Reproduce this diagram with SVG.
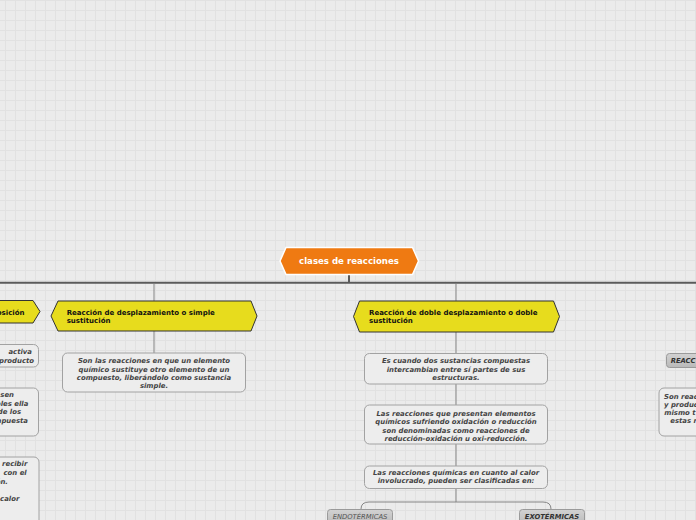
<svg xmlns="http://www.w3.org/2000/svg" width="696" height="520" viewBox="0 0 696 520">
<defs>
<pattern id="grid" patternUnits="userSpaceOnUse" width="10" height="10">
<rect x="0" y="0" width="10" height="10" fill="#ebebeb"/>
<rect x="5" y="0" width="1" height="10" fill="#e1e1e1"/>
<rect x="0" y="0" width="10" height="1" fill="#e1e1e1"/>
</pattern>
<linearGradient id="gray" x1="0" y1="0" x2="0" y2="1">
<stop offset="0" stop-color="#d2d2d2"/>
<stop offset="1" stop-color="#b9b9b9"/>
</linearGradient>
</defs>
<style>
.yel{fill:#e7dc1d;stroke:#333;stroke-width:1}
.ytxt{font-family:"DejaVu Sans",Verdana,sans-serif;font-weight:bold;font-size:7px;fill:#111}
.box{fill:#ededed;stroke:#a2a2a2;stroke-width:1}
.dtxt{font-family:"DejaVu Sans",Verdana,sans-serif;font-weight:bold;font-style:italic;font-size:6.9px;fill:#444;text-anchor:middle}
.ltxt{font-family:"DejaVu Sans",Verdana,sans-serif;font-weight:bold;font-style:italic;font-size:6.9px;fill:#444}
.gbox{fill:url(#gray);stroke:#9a9a9a;stroke-width:1}
.gtxt{font-family:"DejaVu Sans",Verdana,sans-serif;font-style:italic;font-size:6.8px;fill:#555}
.mid{text-anchor:middle}
.gbold{font-weight:bold;fill:#333}
.thin{stroke:#858585;stroke-width:1;fill:none}
</style>
<rect width="696" height="520" fill="url(#grid)"/>

<g id="connectors">
<line x1="0" y1="282.7" x2="696" y2="282.7" stroke="#5a5a5a" stroke-width="2"/>
<line x1="349" y1="274" x2="349" y2="283" stroke="#5a5a5a" stroke-width="2"/>
<line class="thin" x1="154" y1="284" x2="154" y2="301"/>
<line class="thin" x1="456" y1="284" x2="456" y2="301"/>
<line class="thin" x1="154" y1="331" x2="154" y2="353"/>
<line class="thin" x1="456" y1="332" x2="456" y2="353"/>
<line class="thin" x1="456" y1="384" x2="456" y2="405"/>
<line class="thin" x1="456" y1="444" x2="456" y2="466"/>
<line class="thin" x1="456" y1="488" x2="456" y2="502"/>
<path class="thin" d="M361,509 Q361,502 369,502 L543,502 Q551,502 551,509"/>
</g>

<g id="root">
<polygon points="280,261 286,247.5 412.5,247.5 418.5,261 412.5,274.5 286,274.5" fill="#ef7a12" stroke="#ffffff" stroke-width="1.5"/>
<text x="349" y="264" font-family="DejaVu Sans, Verdana, sans-serif" font-weight="bold" font-size="8.6px" fill="#ffffff" text-anchor="middle">clases de reacciones</text>
</g>

<g id="n-descomposicion">
<polygon class="yel" points="-20,311.5 -14,300.5 33,300.5 40,311.5 33,323 -14,323"/>
<text class="ytxt" x="24.5" y="314.5" text-anchor="end">Reacción de descomposición</text>
</g>

<g id="n-simple">
<polygon class="yel" points="51,316 58,301 251,301 257,316 251,331 58,331"/>
<text class="ytxt" x="66.7" y="315">Reacción de desplazamiento o simple</text>
<text class="ytxt" x="66.7" y="323">sustitución</text>
</g>

<g id="n-doble">
<polygon class="yel" points="353.5,316.5 359.5,301 553.5,301 559.5,316.5 553.5,332 359.5,332"/>
<text class="ytxt" x="369" y="315.3">Reacción de doble desplazamiento o doble</text>
<text class="ytxt" x="369" y="323.3">sustitución</text>
</g>

<g id="d-simple">
<rect class="box" x="62.5" y="353" width="183" height="39" rx="5"/>
<text class="dtxt" x="154" y="363.2">Son las reacciones en que un elemento</text>
<text class="dtxt" x="154" y="371.5">químico sustituye otro elemento de un</text>
<text class="dtxt" x="154" y="379.8">compuesto, liberándolo como sustancia</text>
<text class="dtxt" x="154" y="388.2">simple.</text>
</g>

<g id="d-doble-1">
<rect class="box" x="364.5" y="353.5" width="183" height="30.5" rx="5"/>
<text class="dtxt" x="456" y="363.2">Es cuando dos sustancias compuestas</text>
<text class="dtxt" x="456" y="371.8">intercambian entre sí partes de sus</text>
<text class="dtxt" x="456" y="380.2">estructuras.</text>
</g>

<g id="d-doble-2">
<rect class="box" x="364.5" y="405" width="183" height="39" rx="5"/>
<text class="dtxt" x="456" y="415.8">Las reacciones que presentan elementos</text>
<text class="dtxt" x="456" y="424.2">químicos sufriendo oxidación o reducción</text>
<text class="dtxt" x="456" y="432.5">son denominadas como reacciones de</text>
<text class="dtxt" x="456" y="440.8">reducción-oxidación u oxi-reducción.</text>
</g>

<g id="d-doble-3">
<rect class="box" x="364.5" y="466" width="183" height="22.5" rx="5"/>
<text class="dtxt" x="456" y="474.8">Las reacciones químicas en cuanto al calor</text>
<text class="dtxt" x="456" y="483.2">involucrado, pueden ser clasificadas en:</text>
</g>

<g id="n-endo">
<rect class="gbox" x="327.5" y="509.5" width="65" height="16" rx="3"/>
<text class="gtxt mid" x="360" y="518.6">ENDOTÉRMICAS</text>
</g>

<g id="n-exo">
<rect class="gbox" x="519.5" y="509.5" width="65" height="16" rx="3"/>
<text class="gtxt mid gbold" x="552" y="518.6">EXOTÉRMICAS</text>
</g>

<g id="d-desc-1">
<rect class="box" x="-60" y="344.5" width="98.5" height="22.5" rx="5"/>
<text class="ltxt" x="32" y="354.2" text-anchor="end">activa</text>
<text class="ltxt" x="34" y="363.2" text-anchor="end">producto</text>
</g>

<g id="d-desc-2">
<rect class="box" x="-60" y="388" width="98.5" height="48" rx="5"/>
<text class="ltxt" x="14" y="396.8" text-anchor="end">sen</text>
<text class="ltxt" x="28.3" y="405.8" text-anchor="end">ples ella</text>
<text class="ltxt" x="21" y="414.2" text-anchor="end">de los</text>
<text class="ltxt" x="28" y="422.5" text-anchor="end">npuesta</text>
</g>

<g id="d-desc-3">
<rect class="box" x="-60" y="457" width="99" height="80" rx="5"/>
<text class="ltxt" x="27.3" y="466.2" text-anchor="end">recibir</text>
<text class="ltxt" x="26.7" y="474.8" text-anchor="end">con el</text>
<text class="ltxt" x="8" y="483.5" text-anchor="end">ón.</text>
<text class="ltxt" x="19.3" y="500.8" text-anchor="end">calor</text>
</g>

<g id="n-reacc">
<rect class="gbox" x="666.5" y="353.5" width="60" height="14" rx="3"/>
<text class="gtxt gbold" x="670.7" y="362.7">REACC</text>
</g>

<g id="d-reacc">
<rect class="box" x="659" y="388" width="80" height="48" rx="5"/>
<text class="ltxt" x="664" y="398.5">Son reac</text>
<text class="ltxt" x="664" y="406.5">y produc</text>
<text class="ltxt" x="664.3" y="414.8">mismo t</text>
<text class="ltxt" x="670.3" y="422.5">estas r</text>
</g>
</svg>
